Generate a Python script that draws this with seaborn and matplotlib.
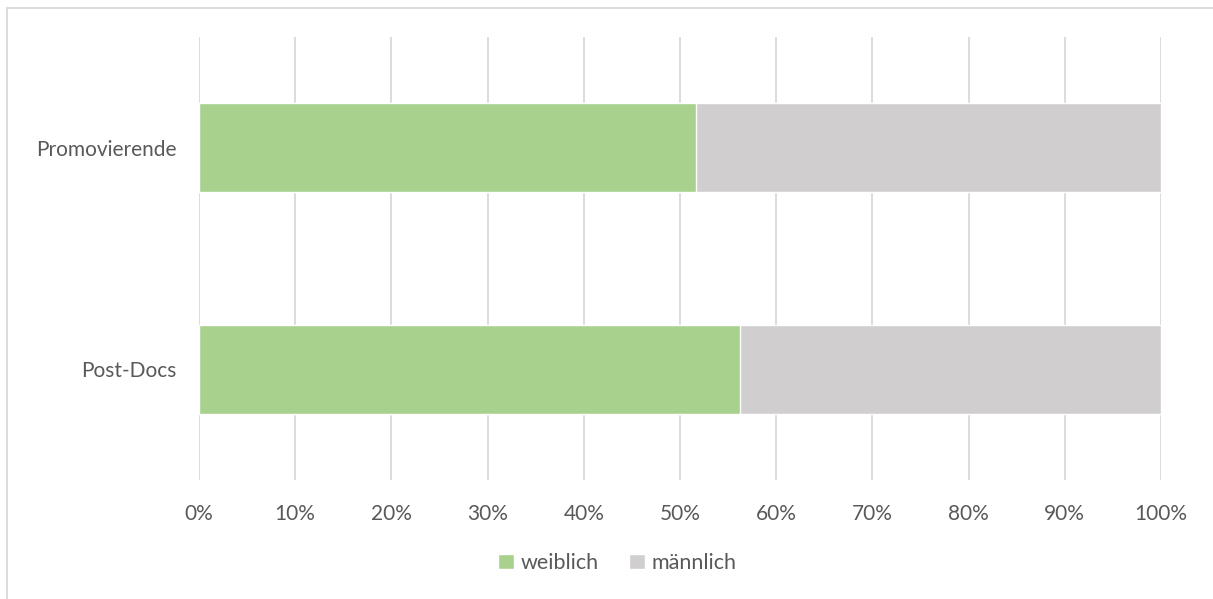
import matplotlib
matplotlib.use("Agg")
import matplotlib.pyplot as plt
import seaborn as sns
import pandas as pd
from matplotlib.patches import Patch, Rectangle
from matplotlib.ticker import PercentFormatter

# Data
categories = ["Promovierende", "Post-Docs"]
weiblich = [51.7, 56.2]
maennlich = [48.3, 43.8]

df = pd.DataFrame({"Gruppe": categories, "weiblich": weiblich, "männlich": maennlich})
df["gesamt"] = df["weiblich"] + df["männlich"]

green = "#A9D18E"
grey = "#D0CECE"
text_col = "#595959"
grid_col = "#D9D9D9"

sns.set_style("white")
plt.rcParams["font.family"] = ["Lato", "DejaVu Sans"]

W, H = 1213, 599
fig = plt.figure(figsize=(W / 100, H / 100), dpi=100)
ax = fig.add_axes([199 / W, 1 - 480 / H, (1161 - 199) / W, (480 - 37) / H])

# stacked bars: grey total underneath, green share on top
sns.barplot(data=df, y="Gruppe", x="gesamt", color=grey, width=0.40,
            orient="h", ax=ax, saturation=1, zorder=2)
sns.barplot(data=df, y="Gruppe", x="weiblich", color=green, width=0.40,
            orient="h", ax=ax, saturation=1, zorder=3)

ax.set_xlim(0, 100)
ax.set_ylim(1.5, -0.5)
ax.set_xticks(range(0, 101, 10))
ax.xaxis.set_major_formatter(PercentFormatter(decimals=0))
ax.grid(axis="x", color=grid_col, linewidth=1.3, zorder=0)
ax.set_axisbelow(True)
for s in ax.spines.values():
    s.set_visible(False)
ax.set_xlabel("")
ax.set_ylabel("")
ax.tick_params(axis="both", length=0, labelsize=15, labelcolor=text_col)
ax.tick_params(axis="y", pad=16)
ax.tick_params(axis="x", pad=17)

handles = [Patch(facecolor=green, label="weiblich"),
           Patch(facecolor=grey, label="männlich")]
fig.legend(handles=handles, loc="center", bbox_to_anchor=(617 / W, 1 - 563 / H),
           ncol=2, frameon=False, fontsize=15.5, labelcolor=text_col,
           handlelength=0.75, handleheight=0.75, handletextpad=0.3, columnspacing=1.4)

# chart area border
fig.patches.append(Rectangle((7 / W, -0.1), 1.2, 1.1 - 8 / H, transform=fig.transFigure,
                             fill=False, edgecolor=grid_col, linewidth=1.3))

fig.savefig("out.png", dpi=100)
